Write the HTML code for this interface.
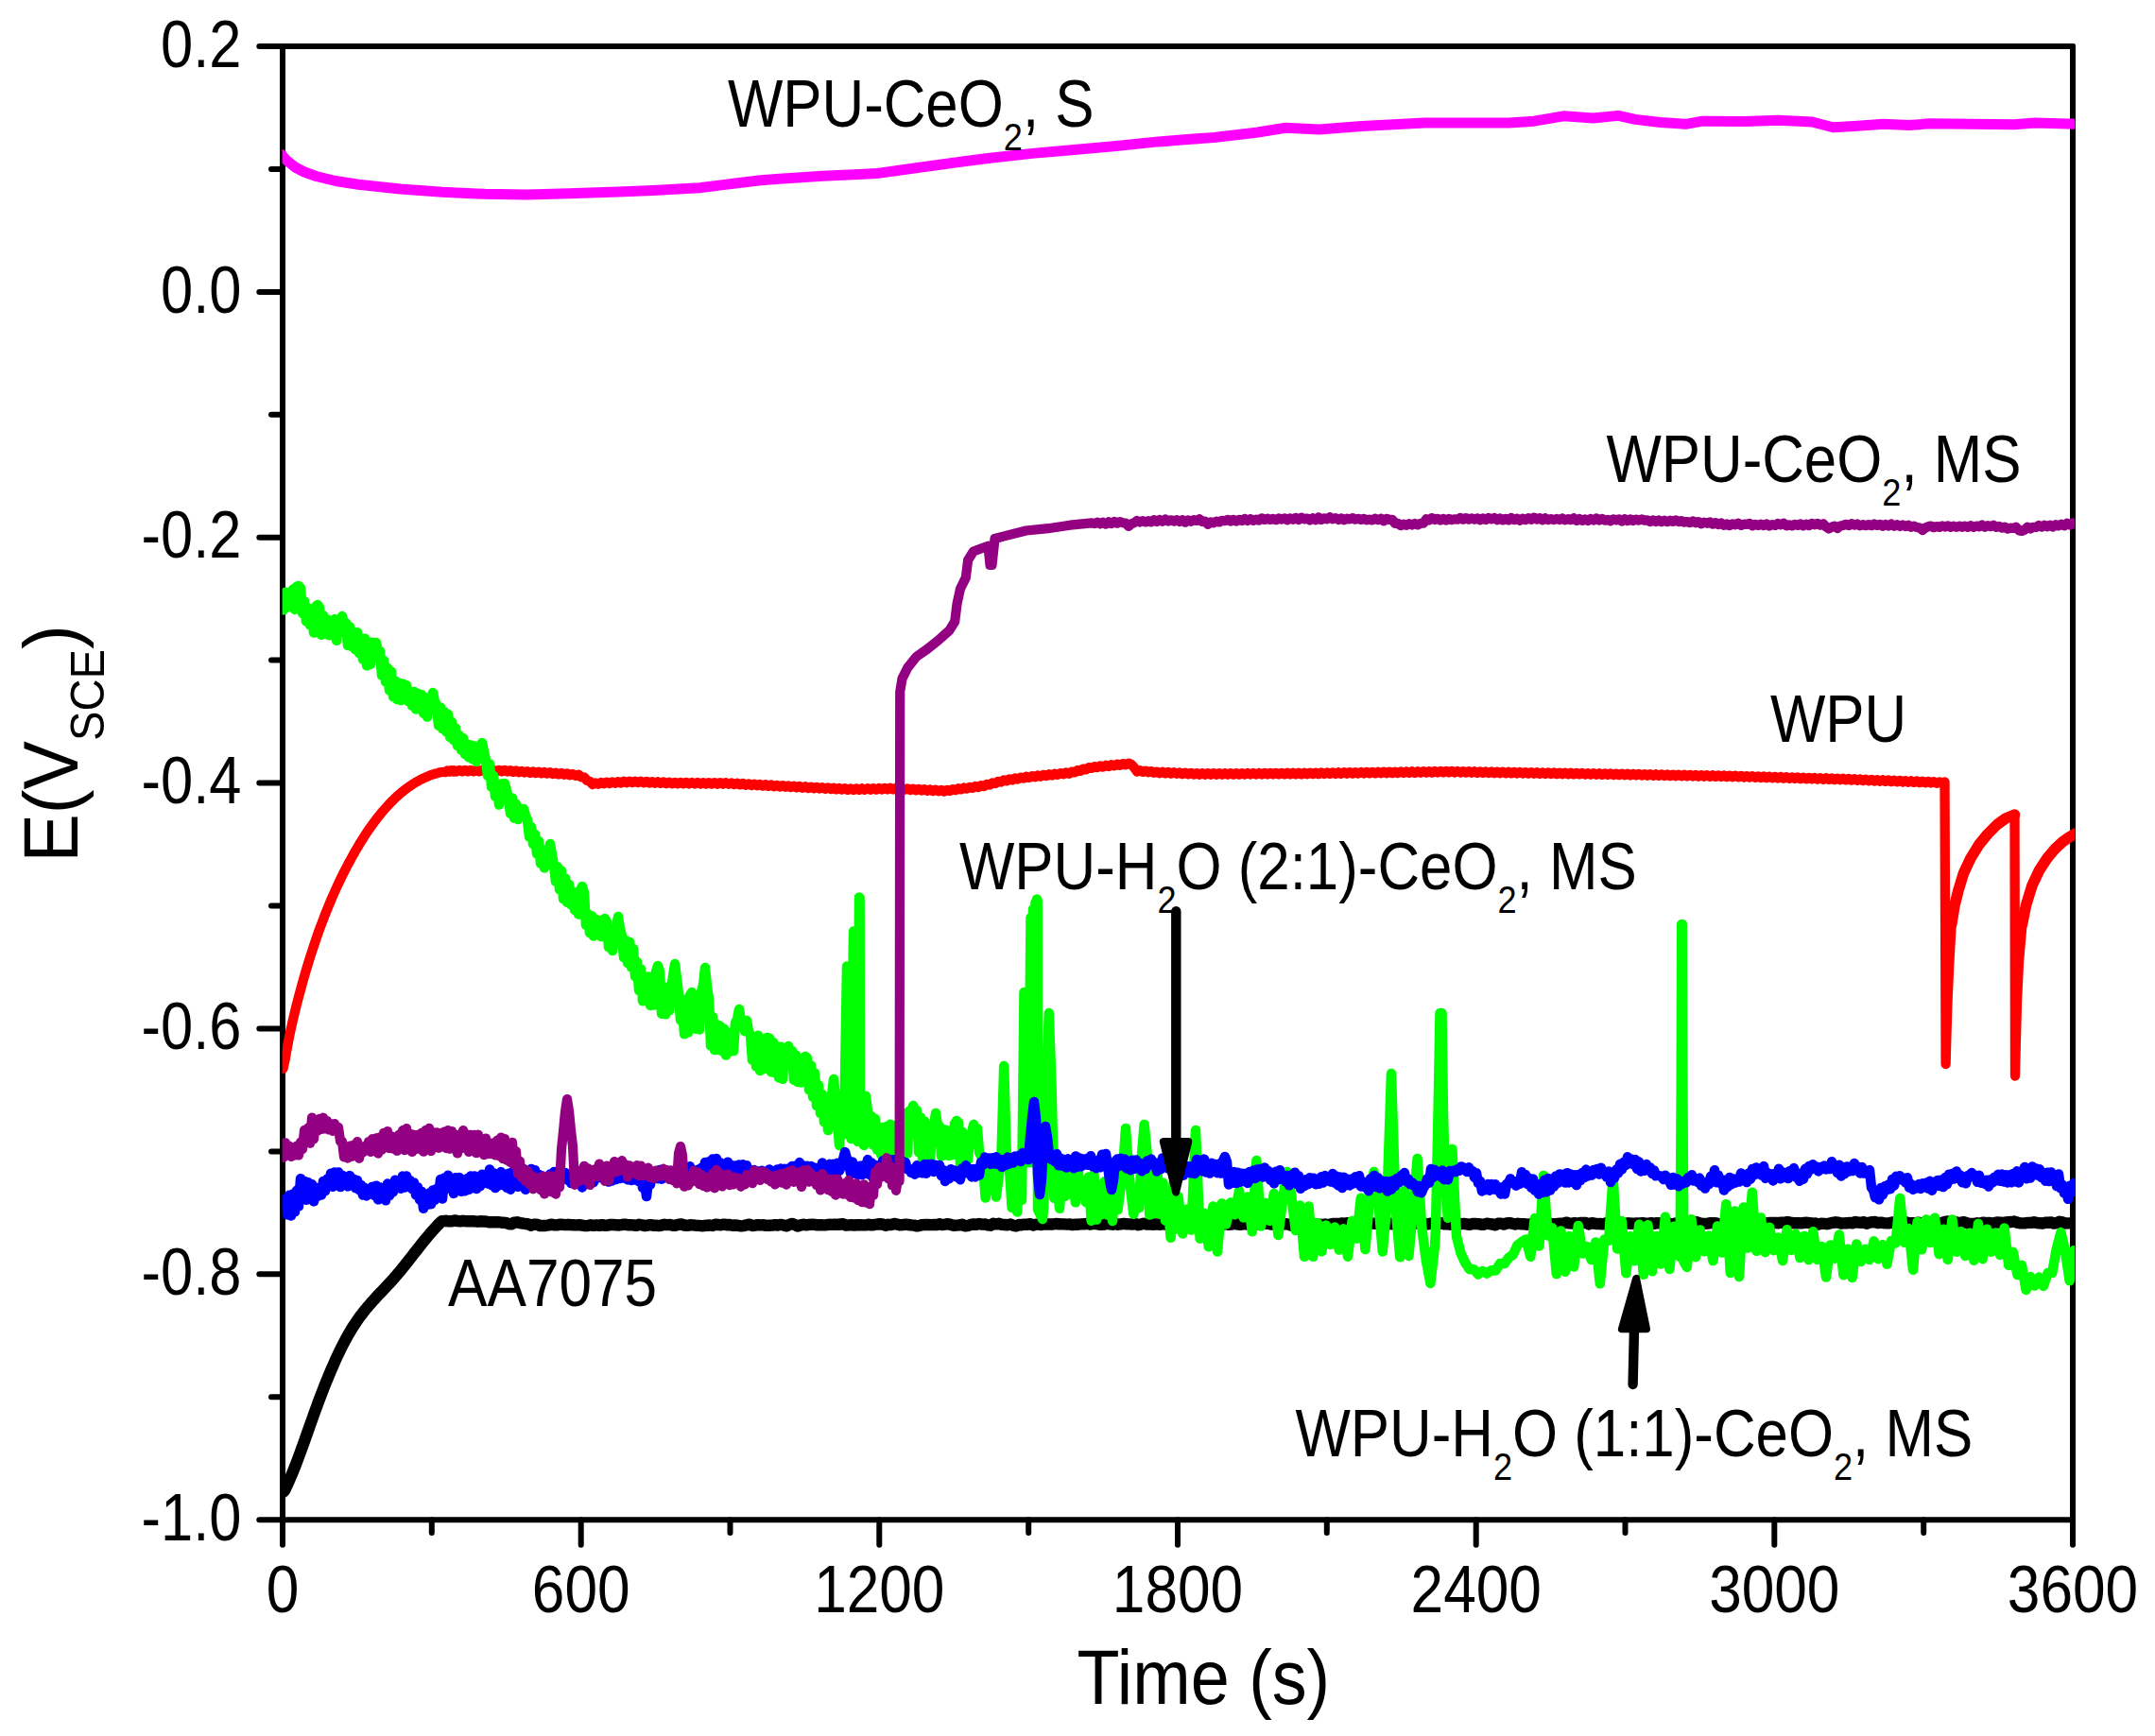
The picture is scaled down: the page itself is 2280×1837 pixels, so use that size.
<!DOCTYPE html>
<html lang="en"><head><meta charset="utf-8"><title>OCP vs time</title>
<style>html,body{margin:0;padding:0;background:#fff}svg{display:block}text{font-family:"Liberation Sans",sans-serif;fill:#000}.c{fill:none;stroke-linejoin:round;stroke-linecap:round}.ax{stroke:#000;stroke-width:6;stroke-linecap:round;fill:none}</style></head><body>
<svg width="2280" height="1837" viewBox="0 0 2280 1837" role="img" aria-label="Open circuit potential versus time">
<rect width="2280" height="1837" fill="#fff"/>
<defs><clipPath id="pc"><rect x="298.6" y="52.0" width="1896.4" height="1553.2"/></clipPath></defs>
<g class="ax">
<path d="M274.3 49.0 H2193.0"/>
<path d="M274.3 1608.2 H2193.0"/>
<path d="M299.0 49.0 V1634.8"/>
<path d="M2193.0 49.0 V1634.8"/>
<path d="M287 178.9 H299.0"/>
<path d="M274.3 308.9 H299.0"/>
<path d="M287 438.8 H299.0"/>
<path d="M274.3 568.7 H299.0"/>
<path d="M287 698.6 H299.0"/>
<path d="M274.3 828.6 H299.0"/>
<path d="M287 958.5 H299.0"/>
<path d="M274.3 1088.4 H299.0"/>
<path d="M287 1218.4 H299.0"/>
<path d="M274.3 1348.3 H299.0"/>
<path d="M287 1478.2 H299.0"/>
<path d="M456.8 1608.2 V1622"/>
<path d="M614.7 1608.2 V1634.8"/>
<path d="M772.5 1608.2 V1622"/>
<path d="M930.3 1608.2 V1634.8"/>
<path d="M1088.2 1608.2 V1622"/>
<path d="M1246.0 1608.2 V1634.8"/>
<path d="M1403.8 1608.2 V1622"/>
<path d="M1561.7 1608.2 V1634.8"/>
<path d="M1719.5 1608.2 V1622"/>
<path d="M1877.3 1608.2 V1634.8"/>
<path d="M2035.2 1608.2 V1622"/>
</g>
<g clip-path="url(#pc)">
<polyline class="c" stroke="#000" stroke-width="12.4" points="299.5,1579.0 301.0,1577.3 302.5,1574.2 304.0,1571.1 305.5,1567.7 307.0,1564.3 308.5,1560.8 310.0,1557.1 311.5,1553.4 313.0,1549.6 314.5,1545.6 316.0,1541.6 317.5,1537.6 319.0,1533.4 320.5,1529.3 322.0,1525.1 323.5,1520.9 325.0,1516.6 326.5,1512.4 328.0,1508.2 329.5,1504.0 331.0,1499.7 332.5,1495.5 334.0,1491.4 335.5,1487.3 337.0,1483.2 338.5,1479.2 340.0,1475.3 341.5,1471.5 343.0,1467.6 344.5,1463.8 346.0,1460.1 347.5,1456.5 349.0,1452.8 350.5,1449.3 352.0,1445.9 353.5,1442.5 355.0,1439.1 356.5,1435.8 358.0,1432.6 359.5,1429.5 361.0,1426.4 362.5,1423.4 364.0,1420.6 365.5,1417.8 367.0,1415.0 368.5,1412.3 370.0,1409.8 371.5,1407.3 373.0,1404.8 374.5,1402.4 376.0,1400.2 377.5,1398.0 379.0,1395.8 380.5,1393.6 382.0,1391.7 383.5,1389.8 385.0,1387.8 386.5,1385.9 388.0,1384.1 389.5,1382.4 391.0,1380.6 392.5,1378.9 394.0,1377.2 395.5,1375.5 397.0,1373.9 398.5,1372.2 400.0,1370.6 401.5,1369.0 403.0,1367.5 404.5,1365.9 406.0,1364.3 407.5,1362.7 409.0,1361.1 410.5,1359.5 412.0,1357.9 413.5,1356.3 415.0,1354.7 416.5,1353.0 418.0,1351.2 419.5,1349.5 421.0,1347.7 422.5,1346.0 424.0,1344.2 425.5,1342.3 427.0,1340.5 428.5,1338.6 430.0,1336.7 431.5,1334.8 433.0,1332.9 434.5,1331.0 436.0,1329.1 437.5,1327.1 439.0,1325.2 440.5,1323.3 442.0,1321.4 443.5,1319.5 445.0,1317.6 446.5,1315.7 448.0,1313.8 449.5,1312.0 451.0,1310.2 452.5,1308.4 454.0,1306.6 455.5,1304.8 457.0,1303.1 458.5,1301.5 460.0,1299.8 461.5,1298.2 463.0,1296.5 464.5,1295.0 466.0,1293.4 467.5,1292.3 469.0,1292.2 470.5,1292.0 472.0,1291.8 475.0,1292.3 478.0,1292.2 481.0,1291.4 484.0,1292.1 487.0,1292.3 490.0,1291.8 493.0,1292.2 496.0,1292.3 499.0,1292.3 502.0,1292.3 505.0,1292.7 508.0,1292.3 511.0,1292.5 514.0,1292.5 517.0,1293.2 520.0,1293.3 523.0,1293.3 526.0,1293.1 529.0,1293.4 532.0,1293.8 535.0,1293.9 538.0,1295.0 541.0,1295.4 544.0,1293.6 547.0,1293.3 550.0,1294.1 553.0,1294.5 556.0,1295.0 559.0,1295.4 562.0,1296.7 565.0,1295.7 568.0,1295.6 571.0,1297.0 574.0,1297.0 577.0,1297.0 580.0,1296.5 583.0,1295.7 586.0,1296.2 589.0,1296.4 592.0,1295.8 595.0,1295.8 598.0,1296.1 601.0,1295.8 604.0,1296.1 607.0,1296.3 610.0,1296.4 613.0,1296.2 616.0,1296.7 619.0,1297.1 622.0,1297.0 625.0,1296.3 628.0,1296.8 631.0,1296.4 634.0,1296.9 637.0,1296.1 640.0,1296.8 643.0,1296.6 646.0,1295.9 649.0,1296.0 652.0,1296.3 655.0,1296.5 658.0,1296.0 661.0,1295.6 664.0,1296.2 667.0,1296.1 670.0,1296.4 673.0,1296.9 676.0,1295.8 679.0,1296.3 682.0,1297.1 685.0,1296.6 688.0,1296.1 691.0,1296.7 694.0,1296.7 697.0,1297.1 700.0,1296.6 703.0,1295.8 706.0,1296.1 709.0,1296.0 712.0,1296.7 715.0,1296.7 718.0,1295.7 721.0,1295.5 724.0,1296.5 727.0,1296.8 730.0,1296.3 733.0,1296.4 736.0,1296.7 739.0,1296.9 742.0,1297.2 745.0,1297.0 748.0,1296.7 751.0,1296.5 754.0,1297.0 757.0,1295.6 760.0,1296.0 763.0,1296.2 766.0,1295.6 769.0,1296.2 772.0,1296.0 775.0,1296.7 778.0,1296.5 781.0,1296.9 784.0,1297.4 787.0,1297.1 790.0,1296.3 793.0,1295.6 796.0,1297.0 799.0,1296.7 802.0,1296.2 805.0,1296.4 808.0,1296.3 811.0,1296.9 814.0,1296.7 817.0,1296.6 820.0,1296.1 823.0,1296.5 826.0,1295.9 829.0,1296.5 832.0,1297.3 835.0,1296.0 838.0,1294.9 841.0,1296.0 844.0,1297.6 847.0,1296.4 850.0,1295.7 853.0,1296.4 856.0,1295.9 859.0,1295.8 862.0,1295.9 865.0,1296.4 868.0,1296.1 871.0,1296.4 874.0,1296.2 877.0,1295.8 880.0,1295.9 883.0,1295.6 886.0,1295.9 889.0,1295.5 892.0,1295.3 895.0,1296.6 898.0,1296.4 901.0,1296.3 904.0,1296.5 907.0,1296.2 910.0,1296.1 913.0,1296.4 916.0,1296.4 919.0,1295.7 922.0,1296.4 925.0,1296.0 928.0,1295.5 931.0,1295.3 934.0,1295.5 937.0,1296.7 940.0,1295.8 943.0,1296.1 946.0,1294.9 949.0,1295.5 952.0,1296.3 955.0,1296.1 958.0,1295.7 961.0,1296.0 964.0,1296.4 967.0,1296.6 970.0,1297.4 973.0,1296.8 976.0,1296.1 979.0,1296.0 982.0,1296.0 985.0,1296.1 988.0,1296.0 991.0,1296.1 994.0,1295.2 997.0,1296.0 1000.0,1295.7 1003.0,1295.2 1006.0,1295.9 1009.0,1296.7 1012.0,1296.6 1015.0,1296.4 1018.0,1295.7 1021.0,1297.4 1024.0,1297.1 1027.0,1295.9 1030.0,1295.5 1033.0,1295.8 1036.0,1295.0 1039.0,1295.6 1042.0,1295.5 1045.0,1296.4 1048.0,1296.7 1051.0,1294.8 1054.0,1295.4 1057.0,1294.8 1060.0,1295.9 1063.0,1296.0 1066.0,1296.2 1069.0,1295.5 1072.0,1296.7 1075.0,1297.4 1078.0,1296.0 1081.0,1296.2 1084.0,1295.6 1087.0,1295.7 1090.0,1295.1 1093.0,1296.5 1096.0,1295.6 1099.0,1295.6 1102.0,1296.0 1105.0,1295.5 1108.0,1295.5 1111.0,1295.4 1114.0,1295.5 1117.0,1295.0 1120.0,1295.2 1123.0,1295.4 1126.0,1295.4 1129.0,1295.6 1132.0,1295.5 1135.0,1296.1 1138.0,1295.7 1141.0,1295.7 1144.0,1295.4 1147.0,1295.3 1150.0,1294.8 1153.0,1295.6 1156.0,1295.0 1159.0,1295.0 1162.0,1295.5 1165.0,1295.9 1168.0,1295.6 1171.0,1294.5 1174.0,1295.4 1177.0,1295.7 1180.0,1294.9 1183.0,1295.7 1186.0,1295.3 1189.0,1294.9 1192.0,1295.3 1195.0,1295.4 1198.0,1295.6 1201.0,1294.8 1204.0,1296.2 1207.0,1295.6 1210.0,1294.8 1213.0,1295.5 1216.0,1295.4 1219.0,1295.7 1222.0,1295.5 1225.0,1295.5 1228.0,1295.7 1231.0,1295.2 1234.0,1295.8 1237.0,1295.4 1240.0,1295.0 1243.0,1295.4 1246.0,1295.7 1249.0,1295.5 1252.0,1295.1 1255.0,1295.7 1258.0,1294.7 1261.0,1294.6 1264.0,1295.1 1267.0,1294.6 1270.0,1295.1 1273.0,1295.3 1276.0,1295.9 1279.0,1295.2 1282.0,1295.0 1285.0,1295.5 1288.0,1294.2 1291.0,1296.5 1294.0,1295.6 1297.0,1295.2 1300.0,1295.8 1303.0,1295.6 1306.0,1294.6 1309.0,1295.4 1312.0,1295.9 1315.0,1295.4 1318.0,1295.3 1321.0,1295.6 1324.0,1295.1 1327.0,1295.5 1330.0,1295.6 1333.0,1295.1 1336.0,1294.5 1339.0,1294.9 1342.0,1294.7 1345.0,1295.6 1348.0,1295.6 1351.0,1295.9 1354.0,1295.7 1357.0,1295.7 1360.0,1295.1 1363.0,1295.6 1366.0,1296.5 1369.0,1295.8 1372.0,1295.2 1375.0,1295.2 1378.0,1295.0 1381.0,1294.8 1384.0,1295.2 1387.0,1295.1 1390.0,1296.0 1393.0,1295.7 1396.0,1295.7 1399.0,1296.0 1402.0,1295.5 1405.0,1296.2 1408.0,1295.4 1411.0,1294.9 1414.0,1294.9 1417.0,1295.0 1420.0,1294.4 1423.0,1294.8 1426.0,1294.2 1429.0,1295.5 1432.0,1295.3 1435.0,1295.0 1438.0,1294.6 1441.0,1294.7 1444.0,1294.9 1447.0,1294.5 1450.0,1294.4 1453.0,1294.7 1456.0,1294.7 1459.0,1295.5 1462.0,1296.0 1465.0,1295.6 1468.0,1295.7 1471.0,1294.7 1474.0,1295.3 1477.0,1295.2 1480.0,1295.5 1483.0,1296.2 1486.0,1294.5 1489.0,1295.0 1492.0,1294.5 1495.0,1295.1 1498.0,1294.4 1501.0,1294.5 1504.0,1295.0 1507.0,1295.4 1510.0,1295.3 1513.0,1294.8 1516.0,1294.7 1519.0,1295.4 1522.0,1295.2 1525.0,1294.3 1528.0,1295.2 1531.0,1295.4 1534.0,1295.7 1537.0,1295.2 1540.0,1295.6 1543.0,1294.8 1546.0,1295.2 1549.0,1294.9 1552.0,1295.3 1555.0,1295.8 1558.0,1295.0 1561.0,1295.0 1564.0,1295.1 1567.0,1295.7 1570.0,1295.8 1573.0,1294.7 1576.0,1295.1 1579.0,1295.5 1582.0,1296.4 1585.0,1294.8 1588.0,1294.6 1591.0,1295.5 1594.0,1294.5 1597.0,1294.1 1600.0,1294.8 1603.0,1295.5 1606.0,1294.8 1609.0,1295.2 1612.0,1295.1 1615.0,1295.8 1618.0,1295.4 1621.0,1295.7 1624.0,1294.8 1627.0,1294.7 1630.0,1294.7 1633.0,1295.4 1636.0,1295.4 1639.0,1294.7 1642.0,1295.1 1645.0,1295.3 1648.0,1295.0 1651.0,1294.7 1654.0,1294.6 1657.0,1293.7 1660.0,1294.3 1663.0,1294.6 1666.0,1294.2 1669.0,1294.8 1672.0,1294.0 1675.0,1294.0 1678.0,1294.0 1681.0,1295.4 1684.0,1294.1 1687.0,1294.6 1690.0,1295.1 1693.0,1295.0 1696.0,1295.4 1699.0,1294.4 1702.0,1293.2 1705.0,1294.2 1708.0,1293.7 1711.0,1293.9 1714.0,1293.5 1717.0,1294.5 1720.0,1294.9 1723.0,1294.3 1726.0,1294.8 1729.0,1294.6 1732.0,1294.4 1735.0,1294.4 1738.0,1294.2 1741.0,1294.6 1744.0,1294.6 1747.0,1294.2 1750.0,1294.8 1753.0,1294.2 1756.0,1294.3 1759.0,1294.5 1762.0,1295.1 1765.0,1294.4 1768.0,1295.2 1771.0,1294.8 1774.0,1294.3 1777.0,1293.9 1780.0,1294.3 1783.0,1294.2 1786.0,1293.5 1789.0,1293.2 1792.0,1293.3 1795.0,1293.3 1798.0,1294.2 1801.0,1294.9 1804.0,1294.9 1807.0,1294.6 1810.0,1294.1 1813.0,1294.1 1816.0,1294.5 1819.0,1295.4 1822.0,1295.2 1825.0,1294.4 1828.0,1294.2 1831.0,1293.9 1834.0,1293.5 1837.0,1293.7 1840.0,1293.9 1843.0,1295.0 1846.0,1294.5 1849.0,1295.0 1852.0,1295.5 1855.0,1294.8 1858.0,1295.3 1861.0,1295.0 1864.0,1294.3 1867.0,1294.3 1870.0,1294.2 1873.0,1294.0 1876.0,1293.9 1879.0,1294.0 1882.0,1294.2 1885.0,1293.6 1888.0,1293.8 1891.0,1293.1 1894.0,1293.7 1897.0,1294.2 1900.0,1294.2 1903.0,1294.2 1906.0,1294.4 1909.0,1293.9 1912.0,1293.8 1915.0,1294.2 1918.0,1294.6 1921.0,1294.5 1924.0,1295.6 1927.0,1294.8 1930.0,1294.9 1933.0,1295.2 1936.0,1294.5 1939.0,1293.8 1942.0,1293.3 1945.0,1293.7 1948.0,1294.5 1951.0,1294.4 1954.0,1294.3 1957.0,1293.9 1960.0,1294.3 1963.0,1293.0 1966.0,1293.6 1969.0,1293.8 1972.0,1293.2 1975.0,1294.8 1978.0,1293.6 1981.0,1293.2 1984.0,1293.0 1987.0,1294.1 1990.0,1293.6 1993.0,1294.1 1996.0,1294.4 1999.0,1294.3 2002.0,1293.5 2005.0,1293.4 2008.0,1294.6 2011.0,1293.6 2014.0,1293.3 2017.0,1293.5 2020.0,1294.2 2023.0,1294.2 2026.0,1294.5 2029.0,1293.6 2032.0,1294.3 2035.0,1294.4 2038.0,1293.3 2041.0,1294.4 2044.0,1295.4 2047.0,1294.2 2050.0,1294.1 2053.0,1294.7 2056.0,1293.5 2059.0,1292.6 2062.0,1292.5 2065.0,1292.9 2068.0,1293.0 2071.0,1293.8 2074.0,1293.9 2077.0,1293.2 2080.0,1293.8 2083.0,1294.8 2086.0,1294.9 2089.0,1294.9 2092.0,1294.3 2095.0,1294.6 2098.0,1293.6 2101.0,1294.1 2104.0,1293.9 2107.0,1294.4 2110.0,1294.3 2113.0,1293.4 2116.0,1293.6 2119.0,1294.3 2122.0,1293.4 2125.0,1293.2 2128.0,1293.0 2131.0,1292.5 2134.0,1293.6 2137.0,1294.3 2140.0,1294.4 2143.0,1294.2 2146.0,1293.9 2149.0,1293.9 2152.0,1293.3 2155.0,1294.0 2158.0,1294.3 2161.0,1294.5 2164.0,1293.7 2167.0,1293.7 2170.0,1293.5 2173.0,1294.5 2176.0,1294.1 2179.0,1292.8 2182.0,1293.4 2185.0,1294.5 2188.0,1294.4 2191.0,1294.4 2194.0,1294.0"/>
<polyline class="c" stroke="#f00" stroke-width="10.3" points="299.5,1131.0 301.5,1121.9 303.5,1110.3 305.5,1099.7 307.5,1090.0 309.5,1081.1 311.5,1072.6 313.5,1064.6 315.5,1056.8 317.5,1049.3 319.5,1041.9 321.5,1034.9 323.5,1027.9 325.5,1021.3 327.5,1014.7 329.5,1008.5 331.5,1002.3 333.5,996.3 335.5,990.5 337.5,984.8 339.5,979.5 341.5,974.2 343.5,968.9 345.5,963.9 347.5,959.0 349.5,954.1 351.5,949.5 353.5,945.0 355.5,940.5 357.5,936.2 359.5,932.0 361.5,927.8 363.5,923.8 365.5,919.9 367.5,916.0 369.5,912.3 371.5,908.6 373.5,904.9 375.5,901.4 377.5,898.0 379.5,894.6 381.5,891.2 383.5,888.1 385.5,885.0 387.5,881.8 389.5,878.8 391.5,876.0 393.5,873.2 395.5,870.4 397.5,867.8 399.5,865.2 401.5,862.7 403.5,860.1 405.5,857.8 407.5,855.6 409.5,853.3 411.5,851.1 413.5,849.0 415.5,847.1 417.5,845.1 419.5,843.2 421.5,841.4 423.5,839.7 425.5,838.0 427.5,836.3 429.5,834.8 431.5,833.4 433.5,832.0 435.5,830.6 437.5,829.3 439.5,828.1 441.5,827.0 443.5,825.8 445.5,824.7 447.5,823.8 449.5,822.9 451.5,822.0 453.5,821.1 455.5,820.2 457.5,819.6 459.5,819.0 461.5,818.4 463.5,817.9 465.5,817.3 467.5,817.0 469.5,816.8 471.5,817.2 473.5,815.5 475.5,816.7 477.5,815.2 479.5,816.6 480.0,815.1 483.0,816.5 486.0,815.0 489.0,816.4 492.0,814.9 495.0,816.4 498.0,814.9 501.0,816.4 504.0,814.9 507.0,816.4 510.0,814.9 513.0,816.4 516.0,814.9 519.0,816.4 522.0,814.9 525.0,816.4 528.0,814.9 531.0,816.4 534.0,814.9 537.0,816.5 540.0,815.2 543.0,816.9 546.0,815.5 549.0,817.2 552.0,815.9 555.0,817.6 558.0,816.3 561.0,817.9 564.0,816.5 567.0,818.1 570.0,816.8 573.0,818.4 576.0,817.0 579.0,818.6 582.0,817.3 585.0,819.0 588.0,817.7 591.0,819.4 594.0,818.1 597.0,819.8 600.0,818.5 603.0,820.3 606.0,819.1 609.0,820.9 612.0,819.7 615.0,822.3 618.0,822.3 621.0,825.8 624.0,826.8 627.0,830.1 630.0,828.4 633.0,829.7 636.0,828.0 639.0,829.3 642.0,827.6 645.0,829.0 648.0,827.4 651.0,828.7 654.0,827.1 657.0,828.5 660.0,826.8 663.0,828.2 666.0,826.6 669.0,828.0 672.0,826.6 675.0,828.1 678.0,826.7 681.0,828.3 684.0,826.9 687.0,828.5 690.0,827.1 693.0,828.7 696.0,827.3 699.0,828.9 702.0,827.5 705.0,829.1 708.0,827.7 711.0,829.3 714.0,827.9 717.0,829.4 720.0,827.9 723.0,829.4 726.0,827.9 729.0,829.5 732.0,828.0 735.0,829.5 738.0,828.0 741.0,829.5 744.0,828.1 747.0,829.6 750.0,828.1 753.0,829.6 756.0,828.2 759.0,829.7 762.0,828.2 765.0,829.7 768.0,828.2 771.0,829.8 774.0,828.5 777.0,830.1 780.0,828.8 783.0,830.4 786.0,829.0 789.0,830.7 792.0,829.4 795.0,831.0 798.0,829.6 801.0,831.3 804.0,830.0 807.0,831.6 810.0,830.2 813.0,831.9 816.0,830.5 819.0,832.2 822.0,830.9 825.0,832.5 828.0,831.1 831.0,832.8 834.0,831.5 837.0,833.1 840.0,831.8 843.0,833.4 846.0,832.0 849.0,833.7 852.0,832.3 855.0,834.0 858.0,832.6 861.0,834.3 864.0,832.9 867.0,834.5 870.0,833.2 873.0,834.8 876.0,833.4 879.0,835.1 882.0,833.7 885.0,835.4 888.0,834.0 891.0,835.6 894.0,834.3 897.0,835.9 900.0,834.5 903.0,836.0 906.0,834.4 909.0,835.9 912.0,834.3 915.0,835.8 918.0,834.2 921.0,835.7 924.0,834.1 927.0,835.6 930.0,834.0 933.0,835.5 936.0,833.9 939.0,835.4 942.0,833.8 945.0,835.3 948.0,833.8 951.0,835.5 954.0,834.1 957.0,835.7 960.0,834.4 963.0,836.0 966.0,834.6 969.0,836.3 972.0,834.9 975.0,836.5 978.0,835.2 981.0,836.8 984.0,835.4 987.0,837.1 990.0,835.7 993.0,837.3 996.0,836.0 999.0,837.6 1002.0,835.9 1005.0,837.0 1008.0,835.1 1011.0,836.2 1014.0,834.3 1017.0,835.4 1020.0,833.5 1023.0,834.6 1026.0,832.8 1029.0,833.9 1032.0,832.0 1035.0,833.1 1038.0,831.2 1041.0,832.1 1044.0,829.9 1047.0,830.6 1050.0,828.4 1053.0,829.1 1056.0,826.9 1059.0,827.6 1062.0,825.4 1065.0,826.4 1068.0,824.4 1071.0,825.5 1074.0,823.5 1077.0,824.5 1080.0,822.6 1083.0,823.6 1086.0,821.7 1089.0,822.9 1092.0,821.1 1095.0,822.3 1098.0,820.5 1101.0,821.7 1104.0,819.9 1107.0,821.1 1110.0,819.3 1113.0,820.5 1116.0,818.7 1119.0,819.9 1122.0,818.1 1125.0,819.3 1128.0,817.5 1131.0,818.7 1134.0,816.6 1137.0,817.4 1140.0,815.1 1143.0,815.9 1146.0,813.6 1149.0,814.4 1152.0,812.1 1155.0,812.9 1158.0,811.1 1161.0,812.2 1164.0,810.4 1167.0,811.6 1170.0,809.8 1173.0,811.0 1176.0,809.2 1179.0,810.4 1182.0,808.6 1185.0,809.9 1188.0,808.1 1191.0,809.4 1194.0,807.6 1197.0,808.9 1200.0,812.2 1203.0,816.4 1206.0,815.1 1209.0,816.9 1212.0,815.6 1215.0,817.3 1218.0,816.1 1221.0,817.8 1224.0,816.6 1227.0,818.2 1230.0,816.8 1233.0,818.4 1236.0,817.0 1239.0,818.6 1242.0,817.2 1245.0,818.8 1248.0,817.5 1251.0,819.1 1254.0,817.7 1257.0,819.3 1260.0,817.9 1263.0,819.5 1266.0,818.1 1269.0,819.7 1272.0,818.2 1275.0,819.7 1278.0,818.2 1281.0,819.7 1284.0,818.2 1287.0,819.7 1290.0,818.2 1293.0,819.6 1296.0,818.1 1299.0,819.6 1302.0,818.1 1305.0,819.6 1308.0,818.1 1311.0,819.6 1314.0,818.1 1317.0,819.5 1320.0,818.0 1323.0,819.5 1326.0,818.0 1329.0,819.5 1332.0,818.0 1335.0,819.5 1338.0,817.9 1341.0,819.4 1344.0,817.9 1347.0,819.4 1350.0,817.9 1353.0,819.4 1356.0,817.9 1359.0,819.3 1362.0,817.8 1365.0,819.3 1368.0,817.8 1371.0,819.3 1374.0,817.8 1377.0,819.3 1380.0,817.8 1383.0,819.2 1386.0,817.7 1389.0,819.1 1392.0,817.6 1395.0,819.1 1398.0,817.5 1401.0,819.0 1404.0,817.5 1407.0,818.9 1410.0,817.4 1413.0,818.8 1416.0,817.3 1419.0,818.8 1422.0,817.2 1425.0,818.7 1428.0,817.2 1431.0,818.6 1434.0,817.1 1437.0,818.5 1440.0,817.0 1443.0,818.5 1446.0,816.9 1449.0,818.4 1452.0,816.9 1455.0,818.3 1458.0,816.8 1461.0,818.2 1464.0,816.7 1467.0,818.2 1470.0,816.6 1473.0,818.1 1476.0,816.6 1479.0,818.0 1482.0,816.5 1485.0,817.9 1488.0,816.4 1491.0,817.9 1494.0,816.3 1497.0,817.8 1500.0,816.3 1503.0,817.7 1506.0,816.2 1509.0,817.6 1512.0,816.1 1515.0,817.6 1518.0,816.0 1521.0,817.5 1524.0,816.0 1527.0,817.4 1530.0,815.9 1533.0,817.4 1536.0,815.9 1539.0,817.5 1542.0,816.0 1545.0,817.5 1548.0,816.1 1551.0,817.6 1554.0,816.2 1557.0,817.7 1560.0,816.3 1563.0,817.8 1566.0,816.4 1569.0,817.9 1572.0,816.5 1575.0,818.0 1578.0,816.5 1581.0,818.1 1584.0,816.6 1587.0,818.2 1590.0,816.7 1593.0,818.3 1596.0,816.8 1599.0,818.4 1602.0,816.9 1605.0,818.5 1608.0,817.0 1611.0,818.5 1614.0,817.1 1617.0,818.6 1620.0,817.2 1623.0,818.7 1626.0,817.3 1629.0,818.8 1632.0,817.4 1635.0,818.9 1638.0,817.4 1641.0,819.0 1644.0,817.5 1647.0,819.1 1650.0,817.6 1653.0,819.2 1656.0,817.7 1659.0,819.3 1662.0,817.8 1665.0,819.4 1668.0,817.9 1671.0,819.4 1674.0,818.0 1677.0,819.5 1680.0,818.1 1683.0,819.6 1686.0,818.2 1689.0,819.7 1692.0,818.3 1695.0,819.8 1698.0,818.4 1701.0,819.9 1704.0,818.5 1707.0,820.0 1710.0,818.6 1713.0,820.1 1716.0,818.7 1719.0,820.2 1722.0,818.8 1725.0,820.3 1728.0,818.9 1731.0,820.4 1734.0,819.0 1737.0,820.5 1740.0,819.1 1743.0,820.7 1746.0,819.2 1749.0,820.8 1752.0,819.3 1755.0,820.9 1758.0,819.4 1761.0,821.0 1764.0,819.5 1767.0,821.1 1770.0,819.6 1773.0,821.2 1776.0,819.7 1779.0,821.3 1782.0,819.8 1785.0,821.4 1788.0,819.9 1791.0,821.5 1794.0,820.0 1797.0,821.6 1800.0,820.1 1803.0,821.7 1806.0,820.2 1809.0,821.8 1812.0,820.3 1815.0,821.9 1818.0,820.4 1821.0,822.0 1824.0,820.5 1827.0,822.1 1830.0,820.6 1833.0,822.2 1836.0,820.7 1839.0,822.3 1842.0,820.9 1845.0,822.5 1848.0,821.1 1851.0,822.6 1854.0,821.2 1857.0,822.8 1860.0,821.4 1863.0,823.0 1866.0,821.5 1869.0,823.1 1872.0,821.7 1875.0,823.3 1878.0,821.9 1881.0,823.5 1884.0,822.0 1887.0,823.6 1890.0,822.2 1893.0,823.8 1896.0,822.4 1899.0,823.9 1902.0,822.5 1905.0,824.1 1908.0,822.7 1911.0,824.3 1914.0,822.9 1917.0,824.4 1920.0,823.0 1923.0,824.6 1926.0,823.2 1929.0,824.8 1932.0,823.3 1935.0,824.9 1938.0,823.5 1941.0,825.1 1944.0,823.7 1947.0,825.2 1950.0,823.8 1953.0,825.4 1956.0,824.0 1959.0,825.6 1962.0,824.2 1965.0,825.8 1968.0,824.4 1971.0,826.1 1974.0,824.7 1977.0,826.3 1980.0,824.9 1983.0,826.5 1986.0,825.1 1989.0,826.7 1992.0,825.3 1995.0,826.9 1998.0,825.5 2001.0,827.1 2004.0,825.7 2007.0,827.3 2010.0,825.9 2013.0,827.5 2016.0,826.1 2019.0,827.7 2022.0,826.3 2025.0,827.9 2028.0,826.5 2031.0,828.1 2034.0,826.7 2037.0,828.3 2040.0,826.9 2043.0,828.5 2046.0,827.2 2049.0,828.8 2052.0,827.4 2055.0,829.0 2057.5,827.5 2058.6,1126.0 2059.3,1100.0 2060.5,1060.0 2062.3,1020.0 2064.7,978.0 2068.0,958.0 2072.0,942.0 2077.5,924.0 2085.0,908.0 2094.0,893.5 2103.0,882.5 2113.0,872.5 2122.0,866.0 2131.5,862.0 2132.0,1138.5 2132.8,1105.0 2134.0,1060.0 2136.0,1018.0 2139.5,978.0 2143.5,958.0 2150.0,937.0 2157.5,921.0 2166.0,908.0 2174.0,898.5 2182.0,891.0 2189.0,886.0 2196.0,882.0"/>
<polyline class="c" stroke="#f00" stroke-width="11.6" points="2064.7,978.0 2068.0,958.0 2072.0,942.0 2077.5,924.0 2085.0,908.0 2094.0,893.5 2103.0,882.5 2113.0,872.5 2122.0,866.0 2131.5,862.0"/>
<polyline class="c" stroke="#f00" stroke-width="11.6" points="2139.5,978.0 2143.5,958.0 2150.0,937.0 2157.5,921.0 2166.0,908.0 2174.0,898.5 2182.0,891.0 2189.0,886.0 2196.0,882.0"/>
<polyline class="c" stroke="#0f0" stroke-width="10.5" points="300.0,645.5 302.0,626.8 304.0,642.7 306.0,627.0 308.0,640.2 310.0,623.6 312.0,644.9 314.0,620.7 316.0,620.0 318.0,622.3 320.0,648.9 322.0,636.3 324.0,657.4 326.0,643.7 328.0,661.5 330.0,647.5 332.0,669.5 334.0,642.0 336.0,640.0 338.0,643.0 340.0,671.8 342.0,651.3 344.0,670.4 346.0,655.4 348.0,672.2 350.0,656.9 352.0,672.4 354.0,655.2 356.0,677.8 358.0,660.5 360.0,659.6 362.0,652.0 364.0,660.0 366.0,659.3 368.0,683.0 370.0,663.2 372.0,683.9 374.0,669.1 376.0,687.5 378.0,669.2 380.0,691.3 382.0,676.3 384.0,697.7 386.0,675.8 388.0,704.3 390.0,679.4 392.0,702.9 394.0,679.7 396.0,688.2 398.0,680.0 400.0,690.4 402.0,689.0 404.0,714.8 406.0,698.9 408.0,721.5 410.0,706.9 412.0,730.5 414.0,710.7 416.0,737.2 418.0,720.4 420.0,740.0 422.0,722.7 424.0,741.1 426.0,723.4 428.0,738.9 430.0,725.2 432.0,742.0 434.0,732.4 436.0,746.8 438.0,731.9 440.0,750.5 442.0,733.8 444.0,749.7 446.0,735.3 448.0,754.8 450.0,738.1 452.0,758.6 454.0,738.4 456.0,741.6 458.0,733.0 460.0,742.9 462.0,745.8 464.0,767.8 466.0,748.4 468.0,771.0 470.0,753.2 472.0,774.2 474.0,756.0 476.0,779.9 478.0,763.9 480.0,783.1 482.0,770.7 484.0,789.2 486.0,778.2 488.0,793.7 490.0,781.1 492.0,798.1 494.0,787.3 496.0,801.4 498.0,788.5 500.0,803.4 502.0,789.5 504.0,805.9 506.0,795.8 508.0,794.7 510.0,786.0 512.0,795.2 514.0,804.6 516.0,820.9 518.0,808.4 520.0,832.8 522.0,821.0 524.0,842.7 526.0,830.3 528.0,851.6 530.0,829.6 532.0,836.9 534.0,829.0 536.0,837.1 538.0,844.0 540.0,861.0 542.0,844.5 544.0,865.8 546.0,850.9 548.0,867.1 550.0,855.4 552.0,861.4 554.0,856.0 556.0,863.1 558.0,867.4 560.0,885.6 562.0,875.1 564.0,893.1 566.0,882.8 568.0,903.4 570.0,890.1 572.0,913.8 574.0,900.0 576.0,918.5 578.0,905.9 580.0,902.9 582.0,893.0 584.0,904.8 586.0,915.2 588.0,932.9 590.0,917.5 592.0,941.3 594.0,921.4 596.0,951.4 598.0,929.5 600.0,954.7 602.0,935.9 604.0,957.1 606.0,943.6 608.0,962.9 610.0,948.9 612.0,967.5 614.0,942.1 616.0,938.0 618.0,944.9 620.0,978.9 622.0,967.4 624.0,987.1 626.0,969.3 628.0,990.4 630.0,972.7 632.0,988.8 634.0,974.2 636.0,991.1 638.0,973.9 640.0,972.0 642.0,975.6 644.0,1002.3 646.0,985.2 648.0,1006.0 650.0,983.9 652.0,982.4 654.0,970.0 656.0,982.8 658.0,990.5 660.0,1013.3 662.0,995.5 664.0,1018.9 666.0,996.7 668.0,1023.5 670.0,1004.0 672.0,1033.2 674.0,1017.9 676.0,1048.0 678.0,1025.4 680.0,1059.3 682.0,1033.9 684.0,1058.8 686.0,1033.6 688.0,1063.9 690.0,1034.2 692.0,1063.5 694.0,1028.0 696.0,1022.0 698.0,1027.9 700.0,1072.7 702.0,1047.7 704.0,1073.3 706.0,1044.6 708.0,1069.3 710.0,1047.5 712.0,1033.4 714.0,1020.0 716.0,1035.5 718.0,1052.7 720.0,1079.4 722.0,1064.0 724.0,1094.2 726.0,1057.4 728.0,1092.4 730.0,1053.4 732.0,1050.0 734.0,1054.6 736.0,1088.8 738.0,1058.8 740.0,1089.4 742.0,1049.4 744.0,1042.2 746.0,1024.0 748.0,1044.1 750.0,1056.9 752.0,1106.7 754.0,1075.9 756.0,1111.1 758.0,1083.9 760.0,1085.0 762.0,1085.9 764.0,1112.2 766.0,1088.7 768.0,1116.6 770.0,1092.4 772.0,1113.0 774.0,1093.2 776.0,1112.1 778.0,1082.5 780.0,1078.7 782.0,1068.0 784.0,1080.0 786.0,1082.3 788.0,1091.2 790.0,1080.0 792.0,1091.1 794.0,1095.4 796.0,1121.8 798.0,1097.7 800.0,1128.5 802.0,1095.8 804.0,1132.9 806.0,1100.0 808.0,1131.2 810.0,1098.7 812.0,1098.0 814.0,1098.5 816.0,1134.4 818.0,1102.9 820.0,1135.3 822.0,1107.2 824.0,1140.4 826.0,1107.7 828.0,1141.8 830.0,1110.5 832.0,1117.3 834.0,1107.0 836.0,1118.1 838.0,1111.9 840.0,1142.8 842.0,1116.6 844.0,1145.1 846.0,1124.1 848.0,1145.4 850.0,1120.3 852.0,1118.0 854.0,1119.5 856.0,1153.3 858.0,1127.4 860.0,1160.8 862.0,1135.6 864.0,1170.1 866.0,1148.3 868.0,1178.1 870.0,1157.9 872.0,1187.4 874.0,1169.2 876.0,1195.9 878.0,1175.1 880.0,1160.0 882.0,1142.0 884.0,1162.9 886.0,1185.0 888.0,1211.9 889.0,1192.0 893.0,1200.0 896.0,1022.5 897.5,1200.0 899.0,1024.0 900.5,1205.0 903.0,985.5 904.5,1205.0 906.0,986.0 907.5,1208.0 909.0,949.5 909.3,1208.0 909.6,950.0 910.0,1208.0 912.0,1165.0 914.0,1212.0 916.0,1160.0 918.0,1175.7 920.0,1204.2 922.0,1181.3 924.0,1211.7 926.0,1184.1 928.0,1216.8 930.0,1193.1 932.0,1221.5 934.0,1193.0 936.0,1222.7 938.0,1192.1 940.0,1217.1 942.0,1189.7 944.0,1221.6 946.0,1191.2 948.0,1213.2 950.0,1189.9 952.0,1220.0 954.0,1177.3 956.0,1214.8 958.0,1179.7 960.0,1220.5 962.0,1175.7 964.0,1180.8 966.0,1170.0 968.0,1181.6 970.0,1175.1 972.0,1219.3 974.0,1182.5 976.0,1227.1 978.0,1186.5 980.0,1230.7 982.0,1191.7 984.0,1227.3 986.0,1192.7 988.0,1192.1 990.0,1178.0 992.0,1190.8 994.0,1191.8 996.0,1223.5 998.0,1195.1 1000.0,1221.9 1002.0,1196.3 1004.0,1223.1 1006.0,1199.5 1008.0,1222.0 1010.0,1189.1 1012.0,1186.0 1014.0,1187.9 1016.0,1231.3 1018.0,1197.8 1020.0,1225.9 1022.0,1202.7 1024.0,1227.2 1026.0,1202.7 1028.0,1200.2 1030.0,1190.0 1032.0,1199.2 1034.0,1194.1 1036.0,1219.4 1037.0,1221.5 1039.8,1226.7 1042.6,1267.6 1045.4,1227.4 1048.2,1259.5 1051.0,1232.0 1053.8,1266.6 1056.6,1246.3 1059.4,1224.7 1062.2,1128.0 1065.0,1229.3 1067.8,1233.6 1070.6,1277.9 1073.4,1228.1 1076.2,1282.4 1077.5,1256.0 1081.0,1270.0 1083.5,1050.0 1085.0,1230.0 1086.5,1052.0 1088.0,1230.0 1090.5,971.0 1091.5,1230.0 1093.0,962.0 1094.3,1230.0 1095.5,955.0 1096.3,1230.0 1097.0,951.5 1097.4,1150.0 1097.7,953.0 1098.0,1280.0 1103.0,1290.0 1104.2,1276.8 1107.0,1147.3 1109.8,1072.0 1112.6,1150.8 1115.4,1268.0 1118.2,1246.8 1121.0,1278.8 1123.8,1239.7 1126.6,1266.0 1129.4,1242.2 1132.2,1263.2 1135.0,1235.4 1137.8,1272.3 1140.6,1237.9 1143.4,1264.6 1146.2,1256.9 1149.0,1272.2 1151.8,1245.6 1154.6,1291.7 1157.4,1242.4 1160.2,1290.5 1163.0,1254.6 1165.8,1285.2 1168.6,1250.2 1171.4,1285.4 1174.2,1250.1 1177.0,1292.0 1179.8,1247.4 1182.6,1280.0 1185.4,1257.6 1188.2,1235.7 1191.0,1194.0 1193.8,1234.8 1196.6,1262.4 1199.4,1284.8 1202.2,1261.1 1205.0,1278.2 1207.8,1224.5 1210.6,1190.0 1213.4,1217.8 1216.2,1285.6 1219.0,1235.0 1221.8,1283.8 1224.6,1243.9 1227.4,1284.8 1230.2,1251.4 1233.0,1291.6 1235.8,1273.7 1238.6,1309.8 1241.4,1252.4 1242.0,1301.2 1246.6,1266.1 1251.2,1305.5 1255.8,1279.7 1260.4,1301.6 1265.0,1196.0 1269.6,1310.7 1274.2,1284.0 1278.8,1319.3 1283.4,1276.5 1288.0,1324.5 1292.6,1273.5 1297.2,1295.4 1301.8,1272.5 1306.4,1285.2 1311.0,1260.2 1315.6,1288.4 1320.2,1266.5 1324.8,1303.3 1329.4,1228.0 1334.0,1297.6 1338.6,1272.9 1343.2,1291.8 1347.8,1263.0 1352.4,1307.0 1357.0,1270.4 1361.6,1240.0 1366.2,1264.7 1370.8,1302.1 1375.4,1275.6 1380.0,1329.7 1384.6,1276.5 1389.2,1329.8 1393.8,1294.1 1398.4,1324.2 1403.0,1296.6 1407.6,1317.0 1412.2,1298.5 1416.8,1322.6 1421.4,1300.3 1426.0,1329.7 1430.6,1292.0 1435.2,1310.6 1439.8,1267.8 1444.4,1322.1 1449.0,1268.7 1453.6,1240.0 1458.2,1270.1 1462.8,1324.4 1467.4,1273.6 1472.0,1136.0 1476.6,1277.3 1481.2,1330.3 1485.8,1260.3 1490.4,1328.9 1495.0,1279.3 1499.6,1226.0 1504.2,1298.5 1508.8,1333.6 1513.4,1358.0 1518.0,1318.3 1519.0,1300.0 1521.5,1180.0 1523.5,1072.0 1525.5,1072.0 1527.0,1180.0 1529.0,1250.0 1531.8,1288.7 1536.4,1216.0 1541.0,1308.4 1545.6,1326.3 1550.2,1336.2 1554.8,1343.2 1559.4,1343.3 1564.0,1348.4 1568.6,1345.0 1573.2,1347.6 1577.8,1344.3 1582.4,1344.5 1587.0,1337.1 1591.6,1337.3 1596.2,1330.8 1600.8,1327.6 1605.4,1317.6 1610.0,1314.1 1614.6,1311.4 1619.2,1329.8 1623.8,1289.1 1628.4,1318.5 1633.0,1244.0 1637.6,1307.6 1642.2,1299.3 1646.8,1348.1 1651.4,1302.5 1656.0,1345.7 1660.6,1308.1 1665.2,1340.5 1669.8,1296.9 1674.4,1326.5 1679.0,1318.9 1683.6,1333.1 1688.2,1314.6 1692.8,1358.3 1697.4,1311.5 1702.0,1312.8 1706.6,1246.0 1711.2,1321.6 1715.8,1292.3 1720.4,1347.3 1725.0,1308.3 1729.6,1334.2 1734.2,1295.8 1738.8,1348.7 1743.4,1296.3 1748.0,1345.3 1752.6,1307.9 1757.2,1337.5 1761.8,1287.7 1766.4,1342.9 1771.0,1297.7 1775.6,1328.2 1777.6,1330.0 1778.7,1150.0 1779.2,978.0 1779.8,978.0 1780.4,1150.0 1781.4,1335.0 1784.8,1340.9 1789.4,1290.2 1794.0,1330.2 1798.6,1301.5 1803.2,1324.3 1807.8,1307.5 1812.4,1334.1 1817.0,1297.5 1821.6,1325.6 1826.2,1274.2 1830.8,1347.0 1835.4,1281.4 1840.0,1351.0 1844.6,1277.6 1849.2,1320.6 1853.8,1261.7 1858.4,1323.8 1863.0,1288.4 1867.6,1325.2 1872.2,1298.8 1876.8,1323.2 1881.4,1309.4 1886.0,1334.0 1890.6,1301.3 1895.2,1322.9 1899.8,1305.7 1904.4,1331.1 1909.0,1307.9 1913.6,1333.1 1918.2,1303.2 1922.8,1332.9 1927.4,1318.9 1932.0,1351.5 1936.6,1317.4 1941.2,1331.7 1945.8,1306.5 1950.4,1349.2 1955.0,1321.7 1959.6,1352.0 1964.2,1316.4 1968.8,1335.1 1973.4,1321.8 1978.0,1333.1 1982.6,1313.3 1987.2,1332.3 1991.8,1317.0 1996.4,1337.7 2001.0,1312.9 2005.6,1315.5 2010.2,1268.0 2014.8,1314.7 2019.4,1300.0 2024.0,1343.7 2028.6,1293.1 2033.2,1322.2 2037.8,1290.4 2042.4,1314.9 2047.0,1288.7 2051.6,1327.2 2056.2,1300.7 2060.8,1332.9 2065.4,1290.5 2070.0,1324.7 2074.6,1303.2 2079.2,1328.9 2083.8,1304.7 2088.4,1333.7 2093.0,1294.9 2097.6,1332.2 2102.2,1300.8 2106.8,1324.7 2111.4,1304.6 2116.0,1328.0 2120.6,1299.6 2125.2,1339.0 2129.8,1324.8 2134.4,1349.0 2139.0,1338.8 2143.6,1365.0 2148.2,1351.1 2152.8,1360.5 2157.4,1351.6 2162.0,1360.9 2166.6,1347.1 2171.2,1347.0 2175.8,1321.4 2180.4,1304.0 2185.0,1324.0 2189.6,1355.3 2194.2,1323.2"/>
<polyline class="c" stroke="#00f" stroke-width="10.5" points="300.0,1275.7 302.0,1268.5 304.0,1285.5 306.0,1264.8 308.0,1286.4 310.0,1263.4 312.0,1282.2 314.0,1259.8 316.0,1276.5 318.0,1247.2 320.0,1269.4 322.0,1249.9 324.0,1269.7 326.0,1251.1 328.0,1268.6 330.0,1253.2 332.0,1271.4 334.0,1256.8 336.0,1265.9 338.0,1257.0 340.0,1264.5 342.0,1249.9 344.0,1260.3 346.0,1247.7 348.0,1255.5 350.0,1241.7 352.0,1255.7 354.0,1240.4 356.0,1249.6 358.0,1240.5 360.0,1256.1 362.0,1243.8 364.0,1251.9 366.0,1245.2 368.0,1255.4 370.0,1244.1 372.0,1254.3 374.0,1247.5 376.0,1257.0 378.0,1249.1 380.0,1259.1 382.0,1253.9 384.0,1264.6 386.0,1256.8 388.0,1265.5 390.0,1258.7 392.0,1262.1 394.0,1255.7 396.0,1264.9 398.0,1254.7 400.0,1269.4 402.0,1256.4 404.0,1267.8 406.0,1257.7 408.0,1270.3 410.0,1252.5 412.0,1265.2 414.0,1253.3 416.0,1261.3 418.0,1248.7 420.0,1257.2 422.0,1249.8 424.0,1257.7 426.0,1244.6 428.0,1256.6 430.0,1244.4 432.0,1254.2 434.0,1249.2 436.0,1258.1 438.0,1251.5 440.0,1264.5 442.0,1256.3 444.0,1269.4 446.0,1260.8 448.0,1278.8 450.0,1269.2 452.0,1274.7 454.0,1262.5 456.0,1274.2 458.0,1259.4 460.0,1269.8 462.0,1257.9 464.0,1266.2 466.0,1248.1 468.0,1268.5 470.0,1246.6 472.0,1257.9 474.0,1243.7 476.0,1257.5 478.0,1249.7 480.0,1262.9 482.0,1246.2 484.0,1257.1 486.0,1246.1 488.0,1260.8 490.0,1249.7 492.0,1260.3 494.0,1247.3 496.0,1258.9 498.0,1244.5 500.0,1257.0 502.0,1244.5 504.0,1258.0 506.0,1246.3 508.0,1255.1 510.0,1242.8 512.0,1251.3 514.0,1244.0 516.0,1252.5 518.0,1237.4 520.0,1254.0 522.0,1241.1 524.0,1257.0 526.0,1245.4 528.0,1254.3 530.0,1240.1 532.0,1253.8 534.0,1249.1 536.0,1256.7 538.0,1241.7 540.0,1258.7 542.0,1240.1 544.0,1255.6 546.0,1241.0 548.0,1255.7 550.0,1243.3 552.0,1255.2 554.0,1245.4 556.0,1258.8 558.0,1243.6 560.0,1249.9 562.0,1237.0 564.0,1252.2 566.0,1238.3 568.0,1254.5 570.0,1243.0 572.0,1258.6 574.0,1244.5 576.0,1260.0 578.0,1247.2 580.0,1253.3 582.0,1242.5 584.0,1250.2 586.0,1240.0 588.0,1248.6 590.0,1239.9 592.0,1250.6 594.0,1240.6 596.0,1246.6 598.0,1240.9 600.0,1248.4 602.0,1244.0 604.0,1252.0 606.0,1243.3 608.0,1249.8 610.0,1244.7 612.0,1252.7 614.0,1249.4 616.0,1256.5 618.0,1246.8 620.0,1252.1 622.0,1246.3 624.0,1251.7 626.0,1245.2 628.0,1251.0 630.0,1244.1 632.0,1246.6 634.0,1238.7 636.0,1246.0 638.0,1240.6 640.0,1246.3 642.0,1239.1 644.0,1250.6 646.0,1241.1 648.0,1249.4 650.0,1241.3 652.0,1248.0 654.0,1239.7 656.0,1246.9 658.0,1241.8 660.0,1246.6 662.0,1242.4 664.0,1248.2 666.0,1241.3 668.0,1249.0 670.0,1238.6 672.0,1248.5 674.0,1237.1 676.0,1250.2 678.0,1241.1 680.0,1256.8 682.0,1250.5 684.0,1266.1 686.0,1248.7 688.0,1253.6 690.0,1240.8 692.0,1245.3 694.0,1240.7 696.0,1247.2 698.0,1237.9 700.0,1247.7 702.0,1237.7 704.0,1244.5 706.0,1241.7 708.0,1247.2 710.0,1241.2 712.0,1246.8 714.0,1240.7 716.0,1247.0 718.0,1237.3 720.0,1246.9 722.0,1235.9 724.0,1244.4 726.0,1236.3 728.0,1240.6 730.0,1234.3 732.0,1244.1 734.0,1239.2 736.0,1242.3 738.0,1237.8 740.0,1240.9 742.0,1235.9 744.0,1239.9 746.0,1229.9 748.0,1236.2 750.0,1229.3 752.0,1236.5 754.0,1226.4 756.0,1234.0 758.0,1226.1 760.0,1238.8 762.0,1230.3 764.0,1241.5 766.0,1232.1 768.0,1244.3 770.0,1229.8 772.0,1239.7 774.0,1233.0 776.0,1241.2 778.0,1233.4 780.0,1242.4 782.0,1232.6 784.0,1238.7 786.0,1232.2 788.0,1239.0 790.0,1233.3 792.0,1240.5 794.0,1238.4 796.0,1242.0 798.0,1238.1 800.0,1243.9 802.0,1239.4 804.0,1244.6 806.0,1238.7 808.0,1242.7 810.0,1240.9 812.0,1246.7 814.0,1237.5 816.0,1242.9 818.0,1240.2 820.0,1244.1 822.0,1237.6 824.0,1243.7 826.0,1236.6 828.0,1241.2 830.0,1236.8 832.0,1237.9 834.0,1236.6 836.0,1241.9 838.0,1233.9 840.0,1241.3 842.0,1233.6 844.0,1237.3 846.0,1230.1 848.0,1239.0 850.0,1233.4 852.0,1239.5 854.0,1233.7 856.0,1239.8 858.0,1234.0 860.0,1240.7 862.0,1235.7 864.0,1241.0 866.0,1236.7 868.0,1238.0 870.0,1230.5 872.0,1243.2 874.0,1233.7 876.0,1242.1 878.0,1231.8 880.0,1242.8 882.0,1231.8 884.0,1240.9 886.0,1230.8 888.0,1239.0 890.0,1234.1 892.0,1226.8 894.0,1219.0 896.0,1226.3 898.0,1230.9 900.0,1241.5 902.0,1229.6 904.0,1241.7 906.0,1239.7 908.0,1242.9 910.0,1233.7 912.0,1243.2 914.0,1233.1 916.0,1240.8 918.0,1227.1 920.0,1243.1 922.0,1230.4 924.0,1247.3 926.0,1233.0 928.0,1243.1 930.0,1235.5 932.0,1240.5 934.0,1228.3 936.0,1237.1 938.0,1228.3 940.0,1234.4 942.0,1227.2 944.0,1231.9 946.0,1227.2 948.0,1239.2 950.0,1233.4 952.0,1237.0 954.0,1228.1 956.0,1236.0 958.0,1230.0 960.0,1237.2 962.0,1236.8 964.0,1240.8 966.0,1237.3 968.0,1242.7 970.0,1233.3 972.0,1240.9 974.0,1235.2 976.0,1241.3 978.0,1232.1 980.0,1241.7 982.0,1232.1 984.0,1238.7 986.0,1231.7 988.0,1240.0 990.0,1232.8 992.0,1235.6 994.0,1233.0 996.0,1244.2 998.0,1238.1 1000.0,1250.1 1002.0,1244.2 1004.0,1247.4 1006.0,1237.2 1008.0,1241.3 1010.0,1238.5 1012.0,1245.5 1014.0,1242.7 1016.0,1248.2 1018.0,1236.4 1020.0,1239.0 1022.0,1233.1 1024.0,1241.5 1026.0,1236.9 1028.0,1245.4 1030.0,1237.1 1032.0,1245.5 1034.0,1236.5 1036.0,1243.5 1038.0,1229.8 1040.0,1232.7 1042.0,1224.6 1044.0,1230.1 1046.0,1225.4 1048.0,1231.8 1050.0,1225.2 1052.0,1231.4 1054.0,1224.3 1056.0,1232.0 1058.0,1226.7 1060.0,1235.0 1062.0,1227.1 1064.0,1233.1 1066.0,1224.6 1068.0,1231.5 1070.0,1224.9 1072.0,1230.6 1074.0,1223.6 1076.0,1226.3 1078.0,1222.9 1080.0,1229.0 1082.0,1220.0 1084.0,1225.5 1086.0,1220.4 1088.0,1227.1 1090.0,1203.3 1092.0,1183.1 1094.0,1166.0 1096.0,1183.5 1098.0,1242.9 1100.0,1264.0 1102.0,1248.0 1104.0,1204.3 1106.0,1192.0 1108.0,1203.3 1110.0,1222.4 1112.0,1226.7 1114.0,1223.6 1116.0,1229.1 1118.0,1221.2 1120.0,1233.2 1122.0,1225.6 1124.0,1233.8 1126.0,1227.1 1128.0,1235.6 1130.0,1226.3 1132.0,1233.9 1134.0,1228.0 1136.0,1236.2 1138.0,1223.5 1140.0,1234.8 1142.0,1225.4 1144.0,1234.3 1146.0,1226.6 1148.0,1232.5 1150.0,1226.0 1152.0,1232.8 1154.0,1223.2 1156.0,1234.2 1158.0,1227.8 1160.0,1236.2 1162.0,1227.6 1164.0,1235.3 1166.0,1221.7 1168.0,1233.8 1170.0,1221.0 1172.0,1233.4 1174.0,1249.0 1176.0,1259.0 1178.0,1248.7 1180.0,1228.9 1182.0,1226.6 1184.0,1234.0 1186.0,1225.8 1188.0,1231.4 1190.0,1226.6 1192.0,1236.4 1194.0,1232.0 1196.0,1238.2 1198.0,1227.7 1200.0,1236.9 1202.0,1227.4 1204.0,1235.2 1206.0,1230.8 1208.0,1239.3 1210.0,1231.9 1212.0,1237.1 1214.0,1228.3 1216.0,1232.8 1218.0,1226.6 1220.0,1232.2 1222.0,1230.2 1224.0,1239.5 1226.0,1231.5 1228.0,1237.3 1230.0,1225.4 1232.0,1234.2 1234.0,1233.5 1236.0,1236.5 1238.0,1234.2 1240.0,1239.2 1242.0,1232.2 1244.0,1240.8 1246.0,1235.4 1248.0,1244.5 1250.0,1234.3 1252.0,1243.7 1254.0,1233.3 1256.0,1240.4 1258.0,1234.2 1260.0,1241.3 1262.0,1234.0 1264.0,1242.0 1266.0,1227.0 1268.0,1238.7 1270.0,1227.8 1272.0,1239.3 1274.0,1226.6 1276.0,1240.5 1278.0,1231.7 1280.0,1241.6 1282.0,1230.8 1284.0,1238.3 1286.0,1231.9 1288.0,1241.2 1290.0,1231.6 1292.0,1241.6 1294.0,1228.3 1296.0,1224.0 1298.0,1229.6 1300.0,1253.4 1302.0,1243.3 1304.0,1251.8 1306.0,1240.1 1308.0,1252.1 1310.0,1240.8 1312.0,1250.8 1314.0,1241.7 1316.0,1250.0 1318.0,1241.7 1320.0,1251.9 1322.0,1240.0 1324.0,1247.6 1326.0,1238.6 1328.0,1247.0 1330.0,1237.5 1332.0,1243.9 1334.0,1236.9 1336.0,1245.6 1338.0,1235.6 1340.0,1243.6 1342.0,1239.0 1344.0,1248.5 1346.0,1242.7 1348.0,1252.3 1350.0,1239.8 1352.0,1248.4 1354.0,1238.2 1356.0,1247.1 1358.0,1243.6 1360.0,1250.3 1362.0,1243.9 1364.0,1254.3 1366.0,1243.4 1368.0,1251.3 1370.0,1240.7 1372.0,1252.9 1374.0,1244.3 1376.0,1257.8 1378.0,1249.4 1380.0,1255.1 1382.0,1248.1 1384.0,1253.2 1386.0,1246.2 1388.0,1249.6 1390.0,1246.7 1392.0,1253.2 1394.0,1248.9 1396.0,1252.7 1398.0,1245.3 1400.0,1251.4 1402.0,1244.1 1404.0,1249.4 1406.0,1245.1 1408.0,1250.6 1410.0,1242.0 1412.0,1251.6 1414.0,1244.6 1416.0,1254.4 1418.0,1245.6 1420.0,1257.0 1422.0,1245.8 1424.0,1254.2 1426.0,1247.7 1428.0,1254.4 1430.0,1247.5 1432.0,1252.4 1434.0,1245.3 1436.0,1252.1 1438.0,1244.2 1440.0,1255.5 1442.0,1250.5 1444.0,1256.3 1446.0,1250.8 1448.0,1260.2 1450.0,1247.3 1452.0,1255.8 1454.0,1243.9 1456.0,1255.9 1458.0,1246.3 1460.0,1257.4 1462.0,1249.7 1464.0,1254.7 1466.0,1250.0 1468.0,1260.6 1470.0,1250.2 1472.0,1258.7 1474.0,1249.2 1476.0,1255.1 1478.0,1247.1 1480.0,1251.5 1482.0,1244.3 1484.0,1243.0 1486.0,1241.1 1488.0,1250.4 1490.0,1247.7 1492.0,1253.2 1494.0,1251.2 1496.0,1254.6 1498.0,1254.2 1500.0,1261.2 1502.0,1254.9 1504.0,1262.2 1506.0,1257.1 1508.0,1254.1 1510.0,1247.3 1512.0,1251.7 1514.0,1237.0 1516.0,1246.0 1518.0,1237.9 1520.0,1243.3 1522.0,1240.6 1524.0,1245.0 1526.0,1238.6 1528.0,1248.2 1530.0,1242.3 1532.0,1248.2 1534.0,1238.9 1536.0,1240.3 1538.0,1238.8 1540.0,1240.2 1542.0,1237.1 1544.0,1238.8 1546.0,1234.4 1548.0,1237.3 1550.0,1235.9 1552.0,1240.0 1554.0,1235.3 1556.0,1239.3 1558.0,1239.2 1560.0,1246.0 1562.0,1241.2 1564.0,1252.0 1566.0,1249.9 1568.0,1260.5 1570.0,1254.1 1572.0,1259.2 1574.0,1253.1 1576.0,1259.7 1578.0,1253.1 1580.0,1258.6 1582.0,1253.2 1584.0,1259.3 1586.0,1257.7 1588.0,1263.6 1590.0,1256.0 1592.0,1263.5 1594.0,1252.8 1596.0,1252.0 1598.0,1247.3 1600.0,1252.0 1602.0,1250.1 1604.0,1254.7 1606.0,1250.5 1608.0,1252.8 1610.0,1240.3 1612.0,1246.0 1614.0,1242.9 1616.0,1253.0 1618.0,1246.7 1620.0,1256.5 1622.0,1247.5 1624.0,1259.8 1626.0,1257.3 1628.0,1263.7 1630.0,1253.1 1632.0,1261.9 1634.0,1248.8 1636.0,1261.3 1638.0,1246.9 1640.0,1259.5 1642.0,1247.7 1644.0,1255.7 1646.0,1244.5 1648.0,1251.9 1650.0,1242.4 1652.0,1249.6 1654.0,1242.7 1656.0,1251.6 1658.0,1241.2 1660.0,1251.4 1662.0,1242.5 1664.0,1249.6 1666.0,1243.3 1668.0,1254.2 1670.0,1243.0 1672.0,1249.3 1674.0,1240.9 1676.0,1246.0 1678.0,1237.6 1680.0,1244.5 1682.0,1240.1 1684.0,1243.6 1686.0,1237.9 1688.0,1241.6 1690.0,1237.0 1692.0,1242.5 1694.0,1235.7 1696.0,1241.9 1698.0,1241.5 1700.0,1245.6 1702.0,1239.6 1704.0,1251.0 1706.0,1243.7 1708.0,1246.7 1710.0,1237.6 1712.0,1241.3 1714.0,1231.8 1716.0,1237.6 1718.0,1229.8 1720.0,1233.0 1722.0,1224.3 1724.0,1229.4 1726.0,1226.5 1728.0,1232.3 1730.0,1226.9 1732.0,1236.8 1734.0,1229.3 1736.0,1239.5 1738.0,1235.8 1740.0,1238.7 1742.0,1232.1 1744.0,1238.3 1746.0,1235.5 1748.0,1241.9 1750.0,1238.4 1752.0,1244.2 1754.0,1243.7 1756.0,1244.4 1758.0,1244.4 1760.0,1248.1 1762.0,1243.8 1764.0,1247.5 1766.0,1249.0 1768.0,1254.0 1770.0,1245.9 1772.0,1253.6 1774.0,1247.3 1776.0,1255.2 1778.0,1249.6 1780.0,1252.7 1782.0,1249.8 1784.0,1251.3 1786.0,1246.0 1788.0,1248.8 1790.0,1243.3 1792.0,1249.6 1794.0,1247.1 1796.0,1250.9 1798.0,1246.6 1800.0,1254.8 1802.0,1254.2 1804.0,1257.6 1806.0,1250.5 1808.0,1253.2 1810.0,1244.8 1812.0,1249.8 1814.0,1238.2 1816.0,1251.3 1818.0,1243.7 1820.0,1251.9 1822.0,1248.2 1824.0,1259.5 1826.0,1251.0 1828.0,1255.9 1830.0,1245.9 1832.0,1253.3 1834.0,1247.4 1836.0,1251.5 1838.0,1247.4 1840.0,1250.5 1842.0,1241.4 1844.0,1249.1 1846.0,1244.3 1848.0,1251.1 1850.0,1241.6 1852.0,1247.7 1854.0,1236.9 1856.0,1243.5 1858.0,1235.4 1860.0,1241.7 1862.0,1238.6 1864.0,1243.8 1866.0,1234.1 1868.0,1246.9 1870.0,1240.9 1872.0,1244.3 1874.0,1242.3 1876.0,1249.5 1878.0,1241.8 1880.0,1245.4 1882.0,1236.8 1884.0,1247.3 1886.0,1240.4 1888.0,1246.0 1890.0,1240.7 1892.0,1247.1 1894.0,1239.1 1896.0,1243.2 1898.0,1236.0 1900.0,1245.7 1902.0,1243.7 1904.0,1249.8 1906.0,1241.5 1908.0,1247.7 1910.0,1236.7 1912.0,1242.2 1914.0,1234.1 1916.0,1237.7 1918.0,1232.2 1920.0,1236.0 1922.0,1234.6 1924.0,1239.4 1926.0,1235.0 1928.0,1237.0 1930.0,1233.5 1932.0,1237.4 1934.0,1236.5 1936.0,1237.1 1938.0,1229.2 1940.0,1235.4 1942.0,1234.9 1944.0,1241.1 1946.0,1232.8 1948.0,1244.5 1950.0,1236.8 1952.0,1242.0 1954.0,1234.4 1956.0,1239.5 1958.0,1234.6 1960.0,1239.1 1962.0,1231.0 1964.0,1237.5 1966.0,1234.8 1968.0,1241.5 1970.0,1235.0 1972.0,1241.5 1974.0,1238.8 1976.0,1242.5 1978.0,1238.1 1980.0,1256.6 1982.0,1259.3 1984.0,1267.2 1986.0,1260.2 1988.0,1269.3 1990.0,1257.0 1992.0,1264.5 1994.0,1255.3 1996.0,1259.4 1998.0,1253.5 2000.0,1258.2 2002.0,1247.9 2004.0,1254.7 2006.0,1244.8 2008.0,1248.5 2010.0,1244.3 2012.0,1248.5 2014.0,1246.4 2016.0,1251.4 2018.0,1246.2 2020.0,1256.6 2022.0,1253.1 2024.0,1258.7 2026.0,1255.3 2028.0,1257.2 2030.0,1253.1 2032.0,1258.0 2034.0,1252.2 2036.0,1256.3 2038.0,1251.5 2040.0,1257.6 2042.0,1249.8 2044.0,1259.7 2046.0,1250.7 2048.0,1254.9 2050.0,1249.0 2052.0,1255.1 2054.0,1248.4 2056.0,1256.1 2058.0,1246.0 2060.0,1253.2 2062.0,1242.7 2064.0,1248.4 2066.0,1241.7 2068.0,1247.4 2070.0,1239.4 2072.0,1246.6 2074.0,1243.6 2076.0,1251.3 2078.0,1245.5 2080.0,1252.3 2082.0,1243.9 2084.0,1244.4 2086.0,1241.0 2088.0,1245.3 2090.0,1243.8 2092.0,1250.8 2094.0,1243.8 2096.0,1251.7 2098.0,1249.6 2100.0,1252.8 2102.0,1248.7 2104.0,1255.6 2106.0,1248.2 2108.0,1251.5 2110.0,1245.7 2112.0,1249.4 2114.0,1242.8 2116.0,1249.7 2118.0,1242.6 2120.0,1250.4 2122.0,1243.3 2124.0,1251.5 2126.0,1243.3 2128.0,1251.3 2130.0,1242.0 2132.0,1250.4 2134.0,1239.3 2136.0,1251.4 2138.0,1240.7 2140.0,1245.3 2142.0,1235.0 2144.0,1247.2 2146.0,1239.6 2148.0,1246.6 2150.0,1234.4 2152.0,1243.4 2154.0,1236.4 2156.0,1243.7 2158.0,1237.3 2160.0,1246.0 2162.0,1242.3 2164.0,1249.7 2166.0,1240.7 2168.0,1250.1 2170.0,1240.5 2172.0,1249.2 2174.0,1244.2 2176.0,1255.1 2178.0,1242.5 2180.0,1257.3 2182.0,1253.6 2184.0,1262.6 2186.0,1258.8 2188.0,1268.8 2190.0,1254.7 2192.0,1261.3 2194.0,1251.9 2196.0,1257.7"/>
<polyline class="c" stroke="#930082" stroke-width="10.2" points="300.0,1224.8 302.0,1209.2 304.0,1221.1 306.0,1212.7 308.0,1223.9 310.0,1216.3 312.0,1222.4 314.0,1212.5 316.0,1222.4 318.0,1208.7 320.0,1216.1 322.0,1195.9 324.0,1205.6 326.0,1193.3 328.0,1209.8 330.0,1182.7 332.0,1205.3 334.0,1185.0 336.0,1196.6 338.0,1183.9 340.0,1195.0 342.0,1182.7 344.0,1194.5 346.0,1186.0 348.0,1195.5 350.0,1189.2 352.0,1196.8 354.0,1189.0 356.0,1196.0 358.0,1192.8 360.0,1207.5 362.0,1208.0 364.0,1224.4 366.0,1215.1 368.0,1225.6 370.0,1212.5 372.0,1223.8 374.0,1211.6 376.0,1222.2 378.0,1208.0 380.0,1225.8 382.0,1215.7 384.0,1219.4 386.0,1212.8 388.0,1217.0 390.0,1208.1 392.0,1218.9 394.0,1205.2 396.0,1216.8 398.0,1204.4 400.0,1220.6 402.0,1203.3 404.0,1216.6 406.0,1198.8 408.0,1213.4 410.0,1197.0 412.0,1215.2 414.0,1202.4 416.0,1215.6 418.0,1205.1 420.0,1217.8 422.0,1200.8 424.0,1214.8 426.0,1196.2 428.0,1217.1 430.0,1194.1 432.0,1214.7 434.0,1199.9 436.0,1219.0 438.0,1200.7 440.0,1216.0 442.0,1200.8 444.0,1215.7 446.0,1198.8 448.0,1218.7 450.0,1196.2 452.0,1211.9 454.0,1193.9 456.0,1218.0 458.0,1198.1 460.0,1214.2 462.0,1198.3 464.0,1214.8 466.0,1199.0 468.0,1212.4 470.0,1197.5 472.0,1215.1 474.0,1196.0 476.0,1215.8 478.0,1197.0 480.0,1215.9 482.0,1200.5 484.0,1220.5 486.0,1201.3 488.0,1215.2 490.0,1196.1 492.0,1214.8 494.0,1200.2 496.0,1219.0 498.0,1200.8 500.0,1215.4 502.0,1200.8 504.0,1220.2 506.0,1200.7 508.0,1217.7 510.0,1208.4 512.0,1222.1 514.0,1204.5 516.0,1221.1 518.0,1209.5 520.0,1221.1 522.0,1209.3 524.0,1222.5 526.0,1206.7 528.0,1223.3 530.0,1203.6 532.0,1226.1 534.0,1205.2 536.0,1227.7 538.0,1209.9 540.0,1230.0 542.0,1208.9 544.0,1232.6 546.0,1218.4 548.0,1242.0 550.0,1228.8 552.0,1246.0 554.0,1236.8 556.0,1249.9 558.0,1238.8 560.0,1253.0 562.0,1243.7 564.0,1258.3 566.0,1245.6 568.0,1255.5 570.0,1246.6 572.0,1259.0 574.0,1244.7 576.0,1263.5 578.0,1245.0 580.0,1257.0 582.0,1244.2 584.0,1261.5 586.0,1244.5 588.0,1263.6 590.0,1243.3 592.0,1256.2 594.0,1216.1 596.0,1197.1 598.0,1176.2 600.0,1163.0 602.0,1175.4 604.0,1195.9 606.0,1212.8 608.0,1253.8 610.0,1239.4 612.0,1250.3 614.0,1238.7 616.0,1248.3 618.0,1233.8 620.0,1249.2 622.0,1236.3 624.0,1254.0 626.0,1238.1 628.0,1245.7 630.0,1237.1 632.0,1245.1 634.0,1231.5 636.0,1243.2 638.0,1235.8 640.0,1249.8 642.0,1233.6 644.0,1249.7 646.0,1236.3 648.0,1241.0 650.0,1229.1 652.0,1240.1 654.0,1231.3 656.0,1238.7 658.0,1228.1 660.0,1235.9 662.0,1232.4 664.0,1245.5 666.0,1233.3 668.0,1239.1 670.0,1235.7 672.0,1241.6 674.0,1233.2 676.0,1244.1 678.0,1233.6 680.0,1243.9 682.0,1238.6 684.0,1243.6 686.0,1235.7 688.0,1246.0 690.0,1241.1 692.0,1247.0 694.0,1238.7 696.0,1242.3 698.0,1239.7 700.0,1244.8 702.0,1236.6 704.0,1242.5 706.0,1238.1 708.0,1247.8 710.0,1238.4 712.0,1249.0 714.0,1240.8 716.0,1252.3 718.0,1220.3 720.0,1213.0 722.0,1222.5 724.0,1255.7 726.0,1243.7 728.0,1254.4 730.0,1244.4 732.0,1250.7 734.0,1238.7 736.0,1249.3 738.0,1240.5 740.0,1253.1 742.0,1242.7 744.0,1254.8 746.0,1245.8 748.0,1256.5 750.0,1246.9 752.0,1251.0 754.0,1241.6 756.0,1257.3 758.0,1237.8 760.0,1252.4 762.0,1241.7 764.0,1255.5 766.0,1244.1 768.0,1251.6 770.0,1242.5 772.0,1254.2 774.0,1247.1 776.0,1253.5 778.0,1245.6 780.0,1251.9 782.0,1246.8 784.0,1255.8 786.0,1248.3 788.0,1253.5 790.0,1242.9 792.0,1249.6 794.0,1244.5 796.0,1252.2 798.0,1238.5 800.0,1246.9 802.0,1239.8 804.0,1249.0 806.0,1239.5 808.0,1245.9 810.0,1240.8 812.0,1248.0 814.0,1243.4 816.0,1250.5 818.0,1246.8 820.0,1253.4 822.0,1243.5 824.0,1251.2 826.0,1242.1 828.0,1251.7 830.0,1241.7 832.0,1253.6 834.0,1239.8 836.0,1248.7 838.0,1238.4 840.0,1250.8 842.0,1242.0 844.0,1249.4 846.0,1240.2 848.0,1255.9 850.0,1238.4 852.0,1250.7 854.0,1237.7 856.0,1250.6 858.0,1241.6 860.0,1247.9 862.0,1245.3 864.0,1254.3 866.0,1244.6 868.0,1259.4 870.0,1242.1 872.0,1256.5 874.0,1247.2 876.0,1259.2 878.0,1247.8 880.0,1260.9 882.0,1247.9 884.0,1264.6 886.0,1247.5 888.0,1262.6 890.0,1252.3 892.0,1263.6 894.0,1252.0 896.0,1263.8 898.0,1248.8 900.0,1267.0 902.0,1253.1 904.0,1267.6 906.0,1252.2 908.0,1270.2 910.0,1256.2 912.0,1272.1 914.0,1253.4 916.0,1272.6 918.0,1262.8 920.0,1274.1 922.0,1255.1 924.0,1264.8 926.0,1239.8 928.0,1253.2 930.0,1235.3 932.0,1245.9 934.0,1235.2 936.0,1242.6 938.0,1225.2 940.0,1247.3 942.0,1234.1 944.0,1254.5 946.0,1239.5 948.0,1259.8 950.0,1247.0 951.6,1250.0 952.2,732.0 954.5,718.1 960.3,706.5 969.6,694.9 981.2,686.8 992.8,677.5 1004.4,667.1 1010.2,657.8 1012.5,639.2 1016.0,623.0 1021.8,611.4 1024.1,592.8 1029.9,583.5 1039.2,580.0 1045.5,577.7 1047.5,598.0 1049.5,598.0 1052.5,570.0 1062.4,567.3 1085.6,561.5 1108.8,559.2 1132.0,555.7 1155.2,553.4 1158.0,554.1 1161.0,552.7 1164.0,554.5 1167.0,552.7 1170.0,554.6 1173.0,552.3 1176.0,554.1 1179.0,552.0 1182.0,553.7 1185.0,552.1 1188.0,553.2 1191.0,553.6 1194.0,557.0 1197.0,554.2 1200.0,553.1 1203.0,551.0 1206.0,552.5 1209.0,551.1 1212.0,552.5 1215.0,551.2 1218.0,552.4 1221.0,550.1 1224.0,552.0 1227.0,550.0 1230.0,551.8 1233.0,549.5 1236.0,551.5 1239.0,550.3 1242.0,551.6 1245.0,550.1 1248.0,552.0 1251.0,550.3 1254.0,552.6 1257.0,550.3 1260.0,551.8 1263.0,550.1 1266.0,551.0 1269.0,549.3 1272.0,552.1 1275.0,551.5 1278.0,554.9 1281.0,552.4 1284.0,553.3 1287.0,551.6 1290.0,552.5 1293.0,550.8 1296.0,551.2 1299.0,549.8 1302.0,551.5 1305.0,549.8 1308.0,551.6 1311.0,549.9 1314.0,551.0 1317.0,549.0 1320.0,551.0 1323.0,549.1 1326.0,550.9 1329.0,549.5 1332.0,550.6 1335.0,548.3 1338.0,549.9 1341.0,548.7 1344.0,550.0 1347.0,548.9 1350.0,550.2 1353.0,548.5 1356.0,549.7 1359.0,548.3 1362.0,550.4 1365.0,548.3 1368.0,549.8 1371.0,547.9 1374.0,550.1 1377.0,547.7 1380.0,549.4 1383.0,548.5 1386.0,550.5 1389.0,548.3 1392.0,550.2 1395.0,547.5 1398.0,549.9 1401.0,548.3 1404.0,549.3 1407.0,547.3 1410.0,549.3 1413.0,548.2 1416.0,550.0 1419.0,548.4 1422.0,550.3 1425.0,548.7 1428.0,549.5 1431.0,548.1 1434.0,549.7 1437.0,548.8 1440.0,550.0 1443.0,548.9 1446.0,550.3 1449.0,549.6 1452.0,550.5 1455.0,548.7 1458.0,550.2 1461.0,548.7 1464.0,551.3 1467.0,548.8 1470.0,550.0 1473.0,549.8 1476.0,554.0 1479.0,553.9 1482.0,556.1 1485.0,554.6 1488.0,555.9 1491.0,554.1 1494.0,555.5 1497.0,554.0 1500.0,555.4 1503.0,553.8 1506.0,553.7 1509.0,549.3 1512.0,550.5 1515.0,548.1 1518.0,550.0 1521.0,548.8 1524.0,550.5 1527.0,548.9 1530.0,550.7 1533.0,548.9 1536.0,550.2 1539.0,549.3 1542.0,549.7 1545.0,548.0 1548.0,549.7 1551.0,548.1 1554.0,549.7 1557.0,548.3 1560.0,549.7 1563.0,548.3 1566.0,550.3 1569.0,548.5 1572.0,550.1 1575.0,548.0 1578.0,549.4 1581.0,548.0 1584.0,550.2 1587.0,548.5 1590.0,550.4 1593.0,548.8 1596.0,550.4 1599.0,548.0 1602.0,550.2 1605.0,548.6 1608.0,550.7 1611.0,548.7 1614.0,550.1 1617.0,548.2 1620.0,549.9 1623.0,547.6 1626.0,549.6 1629.0,548.2 1632.0,550.4 1635.0,548.3 1638.0,550.1 1641.0,549.2 1644.0,550.1 1647.0,548.9 1650.0,550.1 1653.0,548.5 1656.0,550.4 1659.0,549.1 1662.0,550.2 1665.0,548.3 1668.0,550.9 1671.0,549.0 1674.0,550.8 1677.0,549.4 1680.0,551.0 1683.0,549.0 1686.0,550.5 1689.0,548.4 1692.0,550.5 1695.0,548.9 1698.0,550.7 1701.0,549.9 1704.0,551.3 1707.0,549.4 1710.0,550.4 1713.0,549.4 1716.0,551.6 1719.0,549.2 1722.0,551.1 1725.0,549.3 1728.0,551.1 1731.0,549.5 1734.0,550.6 1737.0,549.4 1740.0,550.7 1743.0,550.4 1746.0,552.2 1749.0,550.4 1752.0,552.1 1755.0,550.5 1758.0,552.2 1761.0,550.7 1764.0,552.2 1767.0,550.7 1770.0,551.9 1773.0,550.4 1776.0,552.2 1779.0,551.1 1782.0,552.6 1785.0,552.0 1788.0,553.1 1791.0,551.4 1794.0,553.3 1797.0,552.1 1800.0,554.3 1803.0,552.7 1806.0,553.8 1809.0,552.4 1812.0,554.7 1815.0,553.1 1818.0,555.1 1821.0,553.4 1824.0,555.8 1827.0,554.5 1830.0,556.2 1833.0,554.4 1836.0,555.4 1839.0,553.7 1842.0,555.9 1845.0,554.7 1848.0,554.9 1851.0,553.9 1854.0,556.3 1857.0,554.9 1860.0,556.0 1863.0,554.7 1866.0,556.1 1869.0,554.4 1872.0,556.5 1875.0,555.0 1878.0,556.0 1881.0,554.0 1884.0,555.4 1887.0,553.6 1890.0,556.3 1893.0,555.3 1896.0,556.4 1899.0,554.9 1902.0,555.9 1905.0,554.4 1908.0,556.4 1911.0,554.7 1914.0,556.1 1917.0,553.8 1920.0,555.3 1923.0,554.0 1926.0,555.7 1929.0,554.3 1932.0,557.5 1935.0,559.5 1938.0,557.7 1941.0,556.7 1944.0,559.0 1947.0,556.5 1950.0,555.9 1953.0,554.8 1956.0,556.1 1959.0,554.2 1962.0,555.6 1965.0,554.5 1968.0,556.4 1971.0,555.1 1974.0,556.2 1977.0,555.2 1980.0,556.2 1983.0,554.5 1986.0,556.0 1989.0,554.8 1992.0,556.8 1995.0,555.0 1998.0,556.5 2001.0,554.5 2004.0,556.8 2007.0,555.2 2010.0,557.0 2013.0,555.4 2016.0,557.0 2019.0,555.7 2022.0,557.8 2025.0,556.6 2028.0,558.0 2031.0,558.6 2034.0,561.0 2037.0,558.5 2040.0,557.3 2043.0,556.5 2046.0,558.2 2049.0,557.0 2052.0,557.9 2055.0,556.4 2058.0,557.6 2061.0,556.3 2064.0,557.9 2067.0,556.6 2070.0,557.9 2073.0,556.6 2076.0,557.8 2079.0,556.5 2082.0,557.9 2085.0,556.1 2088.0,557.9 2091.0,556.5 2094.0,557.4 2097.0,555.5 2100.0,557.8 2103.0,556.2 2106.0,557.2 2109.0,555.7 2112.0,557.8 2115.0,556.9 2118.0,558.7 2121.0,557.6 2124.0,559.6 2127.0,558.6 2130.0,559.0 2133.0,557.7 2136.0,561.2 2139.0,562.0 2142.0,560.8 2145.0,557.7 2148.0,559.5 2151.0,557.8 2154.0,557.9 2157.0,555.9 2160.0,557.6 2163.0,555.7 2166.0,557.4 2169.0,555.6 2172.0,557.6 2175.0,555.2 2178.0,556.5 2181.0,554.7 2184.0,556.4 2187.0,553.8 2190.0,555.5 2193.0,553.4 2196.0,554.4"/>
<polyline class="c" stroke="#f0f" stroke-width="11" points="298.0,163.5 299.5,165.5 303.0,169.5 312.3,177.0 322.0,182.0 334.5,186.5 355.0,191.5 379.1,195.3 423.6,200.0 468.2,203.3 512.7,205.3 557.3,206.0 601.8,204.7 646.4,203.2 667.0,202.6 690.9,201.4 740.0,198.7 780.0,193.8 805.0,190.7 824.6,189.3 870.0,186.2 913.7,184.3 927.0,183.6 958.2,179.3 1000.0,173.5 1020.0,170.8 1047.3,167.3 1091.9,162.4 1136.4,158.4 1181.0,154.6 1225.5,149.9 1250.0,147.9 1284.5,145.5 1329.1,140.2 1360.3,135.3 1395.9,137.1 1440.5,133.5 1507.3,129.9 1596.4,129.9 1623.1,128.2 1654.3,122.8 1685.5,125.0 1712.2,122.4 1730.0,126.4 1756.7,129.5 1783.5,131.3 1801.3,128.2 1845.8,128.6 1881.5,127.3 1917.1,129.0 1939.4,134.8 1961.7,133.5 1992.9,131.3 2019.6,132.6 2041.8,130.8 2086.4,131.3 2131.0,131.7 2153.2,129.9 2196.0,131.3"/>
</g>
<text transform="translate(255.5 70.6) scale(0.878 1)" font-size="70" text-anchor="end">0.2</text>
<text transform="translate(255.5 330.5) scale(0.878 1)" font-size="70" text-anchor="end">0.0</text>
<text transform="translate(255.5 590.3) scale(0.878 1)" font-size="70" text-anchor="end">-0.2</text>
<text transform="translate(255.5 850.2) scale(0.878 1)" font-size="70" text-anchor="end">-0.4</text>
<text transform="translate(255.5 1110.0) scale(0.878 1)" font-size="70" text-anchor="end">-0.6</text>
<text transform="translate(255.5 1369.9) scale(0.878 1)" font-size="70" text-anchor="end">-0.8</text>
<text transform="translate(255.5 1629.8) scale(0.878 1)" font-size="70" text-anchor="end">-1.0</text>
<text transform="translate(299.0 1706.3) scale(0.888 1)" font-size="70" text-anchor="middle">0</text>
<text transform="translate(614.7 1706.3) scale(0.888 1)" font-size="70" text-anchor="middle">600</text>
<text transform="translate(930.3 1706.3) scale(0.888 1)" font-size="70" text-anchor="middle">1200</text>
<text transform="translate(1246.0 1706.3) scale(0.888 1)" font-size="70" text-anchor="middle">1800</text>
<text transform="translate(1561.7 1706.3) scale(0.888 1)" font-size="70" text-anchor="middle">2400</text>
<text transform="translate(1877.3 1706.3) scale(0.888 1)" font-size="70" text-anchor="middle">3000</text>
<text transform="translate(2193.0 1706.3) scale(0.888 1)" font-size="70" text-anchor="middle">3600</text>
<text transform="translate(1139.5 1803) scale(0.905 1)" font-size="81.5">Time (s)</text>
<text transform="translate(82.3 912.5) rotate(-90) scale(0.945 1)" font-size="81.5">E(V<tspan font-size="50" dy="28">SCE</tspan><tspan dy="-28">)</tspan></text>
<text transform="translate(770.0 134.3) scale(0.883 1)" font-size="70">WPU-CeO<tspan font-size="41" dy="25">2</tspan><tspan dy="-25">, S</tspan></text>
<text transform="translate(1699.5 510.0) scale(0.883 1)" font-size="70">WPU-CeO<tspan font-size="41" dy="25">2</tspan><tspan dy="-25">, MS</tspan></text>
<text transform="translate(1873.0 785.2) scale(0.883 1)" font-size="70">WPU</text>
<text transform="translate(1015.0 941.3) scale(0.883 1)" font-size="70">WPU-H<tspan font-size="41" dy="25">2</tspan><tspan dy="-25">O (2:1)-CeO</tspan><tspan font-size="41" dy="25">2</tspan><tspan dy="-25">, MS</tspan></text>
<text transform="translate(1370.5 1541.3) scale(0.883 1)" font-size="70">WPU-H<tspan font-size="41" dy="25">2</tspan><tspan dy="-25">O (1:1)-CeO</tspan><tspan font-size="41" dy="25">2</tspan><tspan dy="-25">, MS</tspan></text>
<text transform="translate(474.0 1382.0) scale(0.888 1)" font-size="70">AA7075</text>
<g stroke="#000" stroke-linecap="round" stroke-linejoin="round">
<path d="M1244.3 964.3 V1210" stroke-width="10.4" fill="none"/>
<path d="M1230.8 1208.1 H1257.3 L1244.1 1261.6 Z" stroke-width="8" fill="#000"/>
<path d="M1727.6 1465 L1729 1405" stroke-width="10.4" fill="none"/>
<path d="M1715.9 1406.3 H1742 L1731.1 1352.8 Z" stroke-width="8" fill="#000"/>
</g>
</svg></body></html>
